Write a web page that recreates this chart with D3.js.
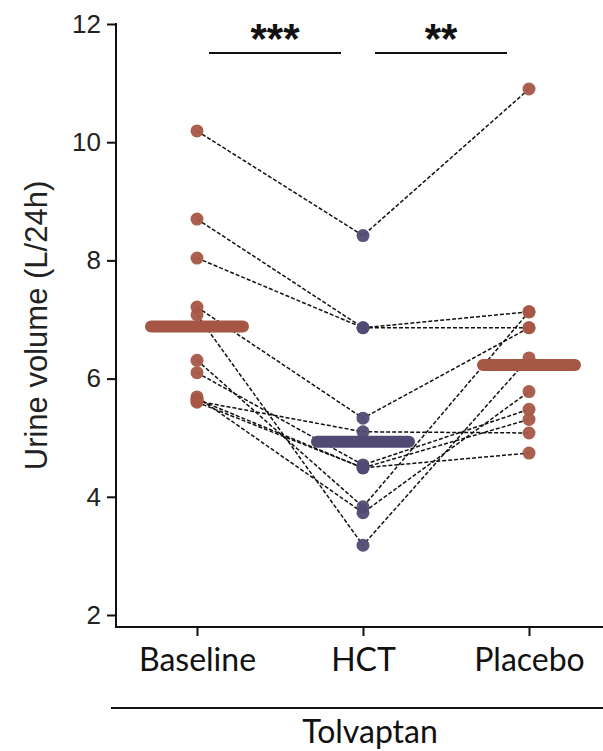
<!DOCTYPE html>
<html lang="en">

<head>
    <style>
        body { margin: 0; background: #fff; }
        svg { display: block; }
    </style>
</head>

<body>
    <div class='chart'></div>
    <script src="https://cdnjs.cloudflare.com/ajax/libs/d3/7.8.5/d3.min.js"></script>
    <script>
        // data, one entry per subject
        const groups = ['Baseline', 'HCT', 'Placebo'];
        const baseline = [10.19, 8.70, 8.04, 7.21, 7.08, 6.31, 6.10, 5.69, 5.65, 5.62, 5.60];
        const hct = [8.42, 6.86, 6.86, 5.33, 3.18, 3.83, 4.54, 3.73, 4.49, 5.10, 4.49];
        const placebo = [10.90, 7.13, 6.86, 6.86, 6.35, 7.13, 5.48, 5.78, 5.31, 5.08, 4.74];
        const centre = [6.88, 4.93, 6.23];   // horizontal bars
        const yTicks = [2, 4, 6, 8, 10, 12];
        const sig = [{ from: 'Baseline', to: 'HCT', label: '***' }, { from: 'HCT', to: 'Placebo', label: '**' }];

        const width = 603, height = 751;
        const red = '#a65645', blue = '#514b74';

        const svg = d3.select('.chart').append('svg')
            .attr('width', width).attr('height', height);

        const x = d3.scalePoint().domain(groups).range([197, 529]);
        const y = d3.scaleLinear().domain([2, 12]).range([615, 24]);
        const axisY = 116, axisX = 627;

        // y axis
        const gy = svg.append('g').attr('transform', `translate(${axisY},0)`)
            .call(d3.axisLeft(y).tickValues(yTicks).tickSize(9).tickPadding(6));
        gy.select('.domain').remove();
        gy.selectAll('line').attr('stroke', '#111').attr('stroke-width', 2);
        gy.selectAll('text').style('font-family', "'Liberation Sans', Arial, sans-serif")
            .style('font-size', '26px').attr('fill', '#222');
        svg.append('line').attr('x1', axisY).attr('x2', axisY).attr('y1', y(12) - 1).attr('y2', axisX)
            .attr('stroke', '#111').attr('stroke-width', 2);

        // x axis
        const gx = svg.append('g').attr('transform', `translate(0,${axisX})`)
            .call(d3.axisBottom(x).tickSize(9).tickPadding(12));
        gx.select('.domain').remove();
        gx.selectAll('line').attr('stroke', '#111').attr('stroke-width', 2);
        gx.selectAll('text').style('font-family', "Lato, 'Open Sans', sans-serif")
            .style('font-size', '32px').attr('fill', '#111');
        svg.append('line').attr('x1', axisY - 1).attr('x2', width).attr('y1', axisX).attr('y2', axisX)
            .attr('stroke', '#111').attr('stroke-width', 2);

        // y title
        svg.append('text').text('Urine volume (L/24h)')
            .attr('transform', `translate(47,${(y(12) + axisX) / 2}) rotate(-90)`)
            .attr('text-anchor', 'middle')
            .style('font-family', "'Liberation Sans', Arial, sans-serif").style('font-size', '31px').attr('fill', '#222');

        // Tolvaptan bracket
        svg.append('line').attr('x1', 111).attr('x2', width).attr('y1', 708).attr('y2', 708)
            .attr('stroke', '#111').attr('stroke-width', 2);
        svg.append('text').text('Tolvaptan').attr('x', 370).attr('y', 743).attr('text-anchor', 'middle')
            .style('font-family', "Lato, 'Open Sans', sans-serif").style('font-size', '32px').attr('fill', '#111');

        // paired dashed lines
        const subjects = baseline.map((b, i) => [b, hct[i], placebo[i]]);
        const line = d3.line().x((d, i) => x(groups[i])).y(d => y(d));
        svg.append('g').selectAll('path')
            .data(subjects)
            .enter()
            .append('path')
            .attr('d', line)
            .attr('fill', 'none').attr('stroke', '#111').attr('stroke-width', 1.5)
            .attr('stroke-dasharray', '4,2');

        // points
        const cols = [red, blue, red];
        [baseline, hct, placebo].forEach((vals, gi) => {
            svg.append('g').selectAll('circle')
                .data(vals)
                .enter()
                .append('circle')
                .attr('cx', x(groups[gi]))
                .attr('cy', d => y(d))
                .attr('r', 6.5)
                .attr('fill', cols[gi]).attr('fill-opacity', 0.95);
        });

        // centre bars
        svg.append('g').selectAll('line')
            .data(centre)
            .enter()
            .append('line')
            .attr('x1', (d, i) => x(groups[i]) - 46)
            .attr('x2', (d, i) => x(groups[i]) + 46)
            .attr('y1', d => y(d)).attr('y2', d => y(d))
            .attr('stroke', (d, i) => cols[i]).attr('stroke-width', 12).attr('stroke-linecap', 'round');

        // significance
        const gs = svg.append('g');
        gs.selectAll('line')
            .data(sig)
            .enter()
            .append('line')
            .attr('x1', d => x(d.from) + 12).attr('x2', d => x(d.to) - 22)
            .attr('y1', 53).attr('y2', 53)
            .attr('stroke', '#111').attr('stroke-width', 2);
        gs.selectAll('text')
            .data(sig)
            .enter()
            .append('text')
            .text(d => d.label)
            .attr('x', d => (x(d.from) + x(d.to)) / 2 - 5)
            .attr('y', 53)
            .attr('text-anchor', 'middle')
            .style('font-family', "'Liberation Sans', Arial, sans-serif").style('font-size', '42px')
            .style('font-weight', 'bold').attr('fill', '#111');
    </script>
</body>

</html>
